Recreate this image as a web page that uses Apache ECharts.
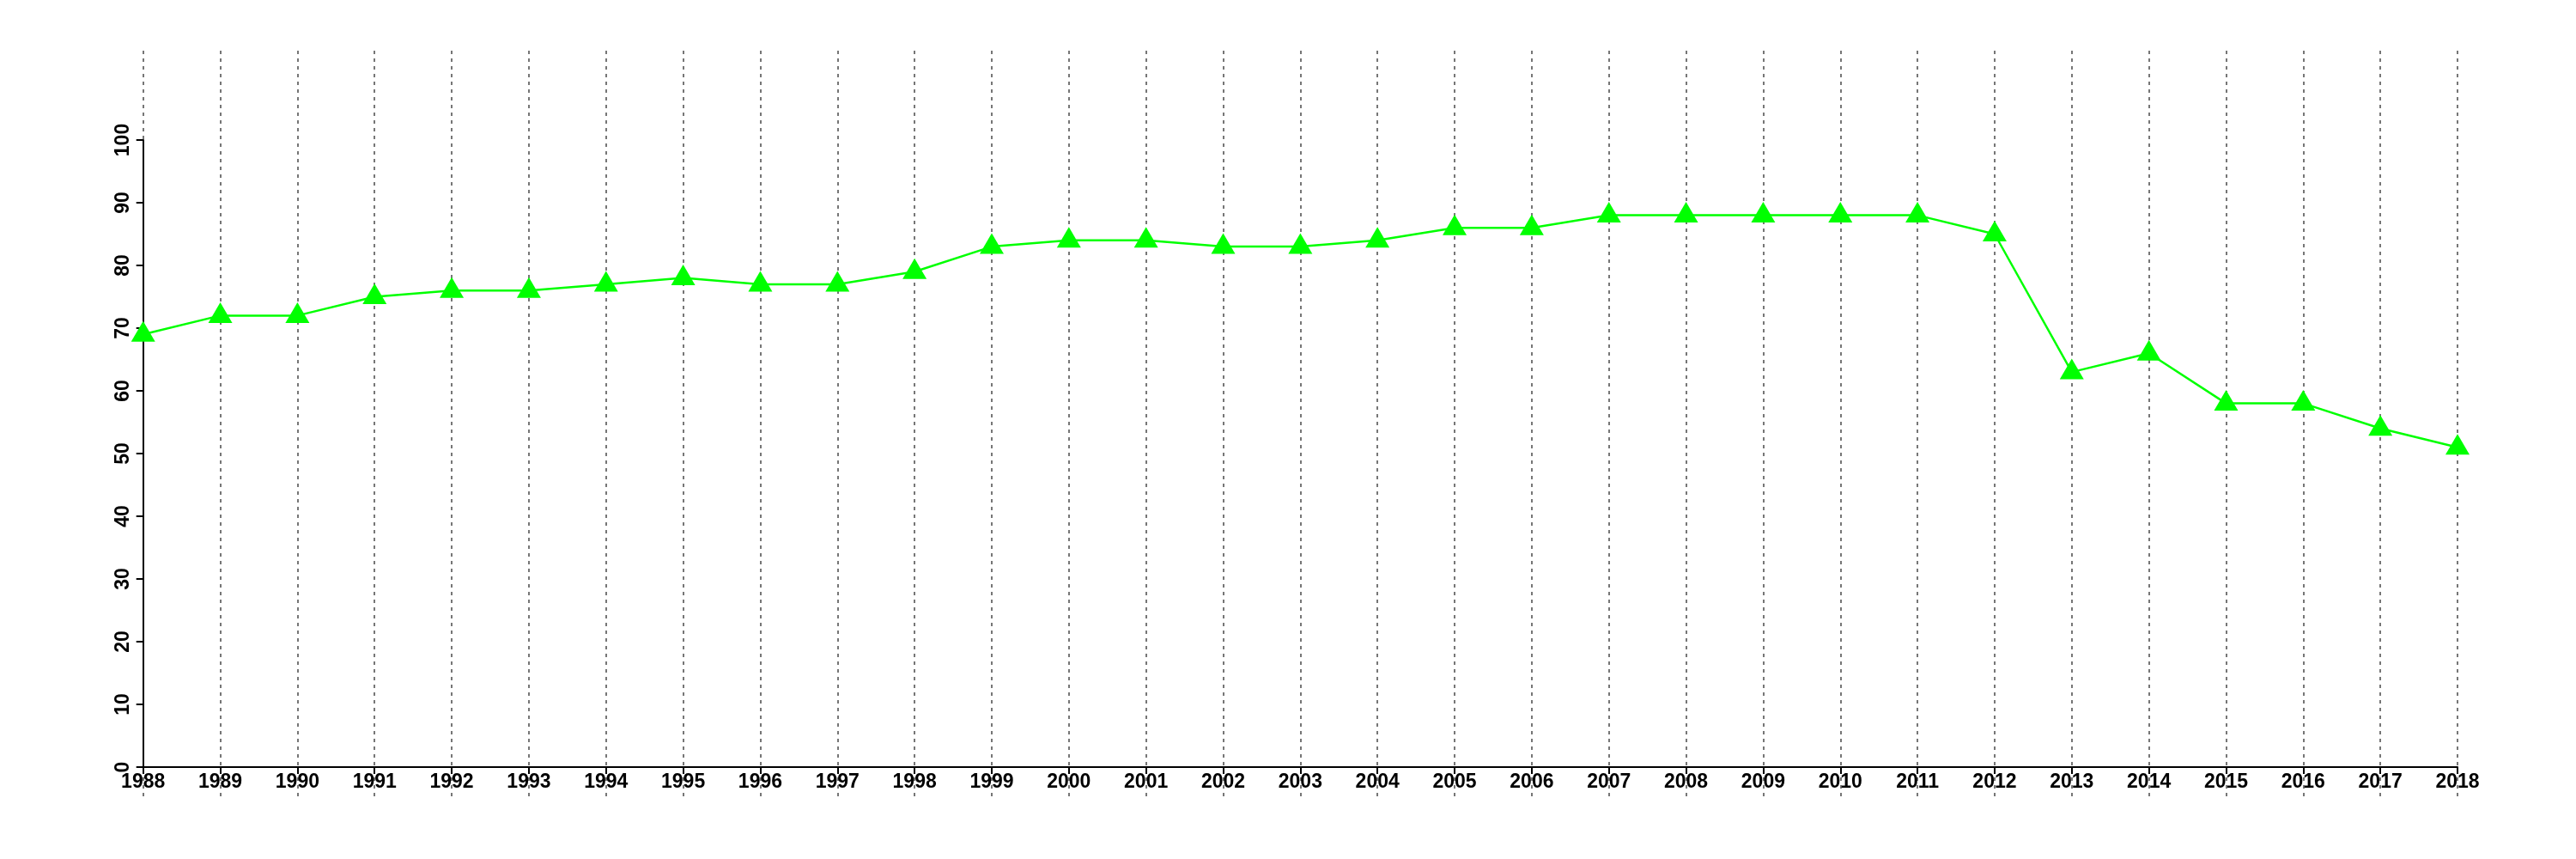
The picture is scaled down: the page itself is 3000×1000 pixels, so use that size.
<!DOCTYPE html>
<html>
<head>
<meta charset="utf-8">
<script src="https://cdn.jsdelivr.net/npm/echarts@6/dist/echarts.min.js"></script>
<style>html,body{margin:0;padding:0;background:#fff}#c{width:3000px;height:1000px}</style>
</head>
<body>
<div id="c"></div>
<script>
const years = ['1988','1989','1990','1991','1992','1993','1994','1995','1996','1997','1998','1999','2000','2001','2002','2003','2004','2005','2006','2007','2008','2009','2010','2011','2012','2013','2014','2015','2016','2017','2018'];
const values = [69,72,72,75,76,76,77,78,77,77,79,83,84,84,83,83,84,86,86,88,88,88,88,88,85,63,66,58,58,54,51];
const yTicks = {min: 0, max: 100, interval: 10};

const chart = echarts.init(document.getElementById('c'), null, {renderer: 'canvas'});
const font = {fontFamily: 'Liberation Sans', fontWeight: 'bold', fontSize: 23, color: '#000'};
chart.setOption({
  animation: false,
  backgroundColor: '#fff',
  grid: [
    {left: 166.7, right: 138, top: 163, bottom: 107, containLabel: false},
    {left: 166.7, right: 138, top: 59, bottom: 73, containLabel: false}
  ],
  xAxis: [
    {
      type: 'category', data: years, boundaryGap: false, gridIndex: 0,
      axisLine: {lineStyle: {color: '#000', width: 2}},
      axisTick: {show: true, length: 8, alignWithLabel: true, lineStyle: {color: '#000', width: 2}},
      axisLabel: Object.assign({margin: 6, interval: 0}, font),
      splitLine: {show: false}
    },
    {
      type: 'category', data: years, boundaryGap: false, gridIndex: 1,
      axisLine: {show: false}, axisTick: {show: false}, axisLabel: {show: false},
      splitLine: {show: true, interval: 0, lineStyle: {color: '#767676', width: 2, type: [4, 5]}}
    }
  ],
  yAxis: [
    {
      type: 'value', gridIndex: 0, min: yTicks.min, max: yTicks.max, interval: yTicks.interval,
      axisLine: {show: true, lineStyle: {color: '#000', width: 2}},
      axisTick: {show: true, length: 8, lineStyle: {color: '#000', width: 2}},
      axisLabel: Object.assign({margin: 12, rotate: 90}, font),
      splitLine: {show: false}
    },
    {
      type: 'value', gridIndex: 1, min: 0, max: 1, show: false, splitLine: {show: false}
    }
  ],
  series: [{
    type: 'line', data: values, xAxisIndex: 0, yAxisIndex: 0,
    symbol: 'triangle', symbolSize: [28, 24], symbolOffset: [0, -3.5],
    showAllSymbol: true,
    lineStyle: {color: '#00ff00', width: 2.5},
    itemStyle: {color: '#00ff00'},
    z: 5
  }]
});
</script>
</body>
</html>
